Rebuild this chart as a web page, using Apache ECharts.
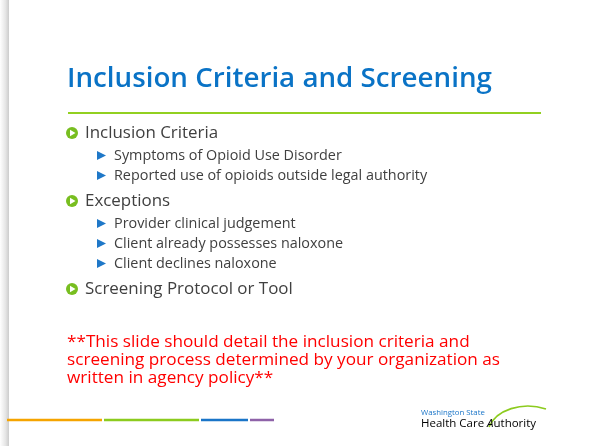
<!DOCTYPE html>
<html>
<head>
<meta charset="utf-8">
<script src="https://cdn.jsdelivr.net/npm/echarts@6/dist/echarts.min.js"></script>
<style>
  html, body { margin: 0; padding: 0; background: #fff; }
  #chart { width: 595px; height: 446px; }
</style>
</head>
<body>
<div id="chart"></div>
<script>
const titleText = 'Inclusion Criteria and Screening';
const groupNames = ['Inclusion Criteria', 'Exceptions', 'Screening Protocol or Tool'];
const groupItems = [
    ['Symptoms of Opioid Use Disorder', 'Reported use of opioids outside legal authority'],
    ['Provider clinical judgement', 'Client already possesses naloxone', 'Client declines naloxone'],
    []
];
const noteLines = [
    '**This slide should detail the inclusion criteria and',
    'screening process determined by your organization as',
    'written in agency policy**'
];
const footerColors = ['#F5A400', '#8CCB1E', '#1A75C8', '#8E62A8'];
const logoLines = ['Washington State', 'Health Care ', 'A', 'uthority'];

const FONT = '"Open Sans", "Noto Sans", sans-serif';
const chart = echarts.init(document.getElementById('chart'), null, { renderer: 'canvas' });

// font size so that a sample text gets a given width
function fitSize(text, weight, width) {
    const ctx = document.createElement('canvas').getContext('2d');
    ctx.font = weight + ' 100px ' + FONT;
    return 100 * width / ctx.measureText(text).width;
}

const titleSize = fitSize(titleText, '600', 425);
const l1Size = fitSize(groupNames[2], 'normal', 208);
const l2Size = fitSize(groupItems[1][0], 'normal', 182);
const noteSize = fitSize(noteLines[0], 'normal', 403);
const logoSize = fitSize(logoLines[1] + logoLines[2] + logoLines[3], 'normal', 116);

const elements = [];

// slide shadow on the left
elements.push({
    type: 'rect', shape: { x: 0, y: 0, width: 9, height: 446 },
    style: { fill: new echarts.graphic.LinearGradient(0, 0, 1, 0, [
        { offset: 0, color: '#ffffff' }, { offset: 0.6, color: '#e6e6e6' }, { offset: 1, color: '#cccccc' }
    ]) }
});

// title + rule
elements.push({
    type: 'text', x: 67, y: 79,
    style: { text: titleText, font: '600 ' + titleSize + 'px ' + FONT, fill: '#0A73C6', verticalAlign: 'middle' }
});
elements.push({
    type: 'line', shape: { x1: 68, y1: 113, x2: 541, y2: 113 },
    style: { stroke: '#92D020', lineWidth: 2 }
});

// bullets
let y = 133;
groupNames.forEach((name, gi) => {
    elements.push({ type: 'circle', shape: { cx: 72, cy: y, r: 6 }, style: { fill: '#78BE20' } });
    elements.push({ type: 'polygon', shape: { points: [[70, y - 3.2], [70, y + 3.2], [75.5, y]] }, style: { fill: '#fff' } });
    elements.push({
        type: 'text', x: 85, y: y,
        style: { text: name, font: 'normal ' + l1Size + 'px ' + FONT, fill: '#404040', verticalAlign: 'middle' }
    });
    y += 22.5;
    groupItems[gi].forEach(item => {
        elements.push({ type: 'polygon', shape: { points: [[97, y - 4.5], [97, y + 4.5], [106, y]] }, style: { fill: '#1F78C8' } });
        elements.push({
            type: 'text', x: 114, y: y,
            style: { text: item, font: 'normal ' + l2Size + 'px ' + FONT, fill: '#404040', verticalAlign: 'middle' }
        });
        y += 20;
    });
    y += 5.5;
});

// red note
noteLines.forEach((line, i) => {
    elements.push({
        type: 'text', x: 67, y: 342 + i * 18,
        style: { text: line, font: 'normal ' + noteSize + 'px ' + FONT, fill: '#FF0000', verticalAlign: 'middle' }
    });
});

// footer color bars
const footerSpans = [[7, 102], [104, 199], [201, 248], [250, 274]];
footerColors.forEach((c, i) => {
    elements.push({
        type: 'line', shape: { x1: footerSpans[i][0], y1: 420, x2: footerSpans[i][1], y2: 420 },
        style: { stroke: c, lineWidth: 2.5 }
    });
});

// logo
elements.push({
    type: 'bezierCurve', shape: { x1: 489, y1: 427, cpx1: 496, cpy1: 410, cpx2: 522, cpy2: 401, x2: 546, y2: 409 },
    style: { stroke: '#8CCB1E', lineWidth: 1.6, fill: null }
});
elements.push({
    type: 'text', x: 421, y: 413,
    style: { text: logoLines[0], font: 'normal ' + (logoSize * 0.68) + 'px ' + FONT, fill: '#1A75C8', verticalAlign: 'middle' }
});
elements.push({
    type: 'text', x: 421, y: 424,
    style: {
        text: '{b|' + logoLines[1] + '}{g|' + logoLines[2] + '}{b|' + logoLines[3] + '}',
        verticalAlign: 'middle',
        rich: {
            b: { fontFamily: FONT, fontSize: logoSize, color: '#1A75C8' },
            g: { fontFamily: FONT, fontSize: logoSize, color: '#8CCB1E', fontStyle: 'italic' }
        }
    }
});

chart.setOption({
    backgroundColor: '#ffffff',
    animation: false,
    graphic: { elements: elements }
});

window.onresize = () => chart.resize();
</script>
</body>
</html>
